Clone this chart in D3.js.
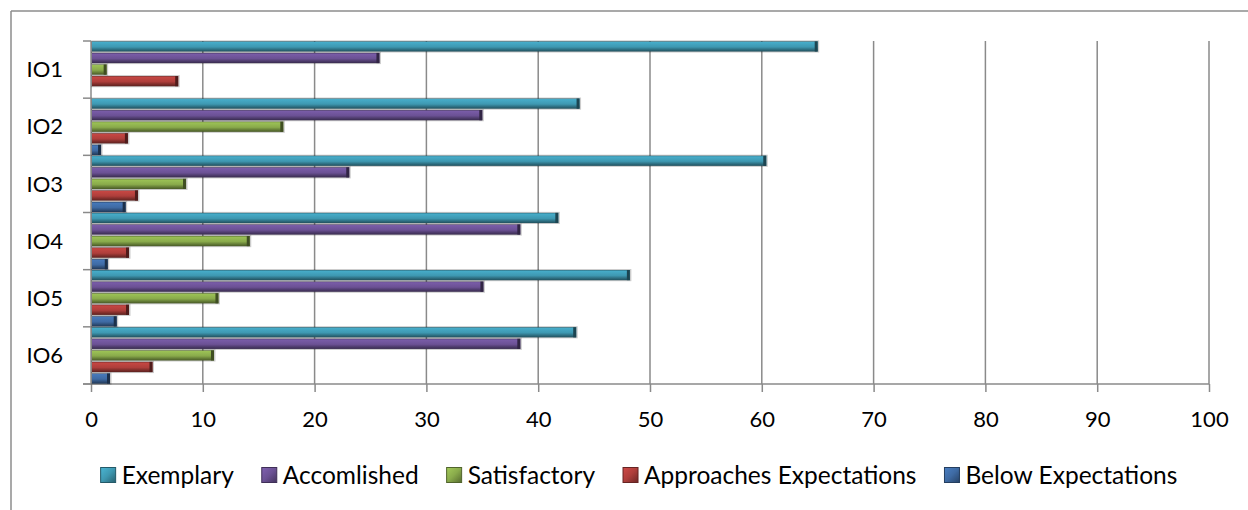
<!DOCTYPE html>
<html>
<head>
<meta charset="utf-8">
<script src="https://cdn.jsdelivr.net/npm/d3@7"></script>
<style>
  html, body { margin: 0; padding: 0; background: #ffffff; }
  svg { display: block; }
  text { font-family: Lato, "Open Sans", sans-serif; fill: #000; }
</style>
</head>
<body>
<svg id="chart" width="1248" height="510"></svg>
<script>
// Outcome categories (top to bottom)
const categories = ["IO1", "IO2", "IO3", "IO4", "IO5", "IO6"];

// Rating levels, in the order they are stacked inside each category band
const seriesNames = ["Exemplary", "Accomlished", "Satisfactory", "Approaches Expectations", "Below Expectations"];

// Percentage of ratings per outcome, one array per rating level
const exemplary    = [65.0, 43.7, 60.4, 41.8, 48.2, 43.4];
const accomlished  = [25.8, 35.0, 23.1, 38.4, 35.1, 38.4];
const satisfactory = [1.4, 17.2, 8.5, 14.2, 11.4, 11.0];
const approaches   = [7.8, 3.3, 4.2, 3.4, 3.4, 5.5];
const below        = [0.0, 0.9, 3.1, 1.5, 2.3, 1.7];

// Value axis ticks
const xTicks = [0, 10, 20, 30, 40, 50, 60, 70, 80, 90, 100];

const seriesValues = [exemplary, accomlished, satisfactory, approaches, below];
const seriesColors = ["#3e98b1", "#6b5194", "#89aa4b", "#ae3e3b", "#3e6aa3"];

const svg = d3.select("#chart");
const W = 1248, H = 510;
const margin = { left: 91, right: 39, top: 41, bottom: 126 };

const x = d3.scaleLinear().domain([0, 100]).range([margin.left, W - margin.right]);
const y = d3.scaleBand().domain(categories).range([margin.top, H - margin.bottom]);
const ySub = d3.scaleBand().domain(seriesNames).range([0, y.bandwidth()])
  .paddingInner(0.12).paddingOuter(0.03);

// Bevel-like gradients for each series
const defs = svg.append("defs");
seriesColors.forEach((c, i) => {
  const base = d3.color(c);
  const g = defs.append("linearGradient").attr("id", "g" + i)
    .attr("x1", 0).attr("y1", 0).attr("x2", 0).attr("y2", 1);
  [[0, base.darker(1.3)], [0.1, base.brighter(0.35)], [0.3, base.brighter(0.2)],
   [0.55, base], [0.78, base.darker(0.8)], [1, base.darker(1.8)]]
    .forEach(([o, col]) => g.append("stop").attr("offset", o).attr("stop-color", col.formatHex()));
  const s = defs.append("linearGradient").attr("id", "s" + i)
    .attr("x1", 0).attr("y1", 0).attr("x2", 1).attr("y2", 1);
  [[0, base.brighter(0.5)], [0.5, base], [1, base.darker(1.3)]]
    .forEach(([o, col]) => s.append("stop").attr("offset", o).attr("stop-color", col.formatHex()));
});

// Chart frame
const frame = "#8c8c8c";
svg.append("line").attr("x1", 11).attr("x2", W).attr("y1", 11).attr("y2", 11)
  .attr("stroke", frame).attr("stroke-width", 1.5);
svg.append("line").attr("x1", 11).attr("x2", 11).attr("y1", 11).attr("y2", H)
  .attr("stroke", frame).attr("stroke-width", 1.5);

// Vertical gridlines
const grid = "#8a8a8a";
svg.append("g").selectAll("line").data(xTicks.filter(d => d > 0)).join("line")
  .attr("x1", d => x(d)).attr("x2", d => x(d))
  .attr("y1", margin.top).attr("y2", H - margin.bottom)
  .attr("stroke", grid).attr("stroke-width", 1.5);

// Value axis
const xAxis = svg.append("g").attr("transform", `translate(0,${H - margin.bottom})`)
  .call(d3.axisBottom(x).tickValues(xTicks).tickSize(8).tickSizeOuter(0).tickPadding(10));
xAxis.select(".domain").attr("stroke", grid).attr("stroke-width", 1.5)
  .attr("d", `M${margin.left - 8},0H${W - margin.right}`);
xAxis.selectAll(".tick line").attr("stroke", grid).attr("stroke-width", 1.5);
xAxis.selectAll(".tick text").attr("font-size", 22).attr("font-family", "Lato")
  .attr("dy", "0.71em").attr("y", 27);

// Category axis
const yAxis = svg.append("g").attr("transform", `translate(${margin.left},0)`);
yAxis.append("line").attr("x1", 0).attr("x2", 0)
  .attr("y1", margin.top).attr("y2", H - margin.bottom)
  .attr("stroke", grid).attr("stroke-width", 1.5);
const bounds = categories.map(c => y(c)).concat([y(categories[categories.length - 1]) + y.bandwidth()]);
yAxis.selectAll("line.tk").data(bounds).join("line").attr("class", "tk")
  .attr("x1", -8).attr("x2", 0).attr("y1", d => d).attr("y2", d => d)
  .attr("stroke", grid).attr("stroke-width", 1.5);
yAxis.selectAll("text").data(categories).join("text")
  .attr("x", -28).attr("y", d => y(d) + y.bandwidth() / 2)
  .attr("dy", "0.35em").attr("text-anchor", "end")
  .attr("font-size", 22).text(d => d);

// Bars
const bars = svg.append("g");
seriesNames.forEach((name, si) => {
  const vals = seriesValues[si];
  const g = bars.append("g");
  const data = categories.map((c, ci) => ({ c, v: vals[ci] })).filter(d => d.v > 0);
  const top = d => y(d.c) + ySub(name);
  const h = ySub.bandwidth();
  // soft halo
  g.selectAll("rect.halo").data(data).join("rect").attr("class", "halo")
    .attr("x", x(0)).attr("y", d => top(d) - 1)
    .attr("width", d => x(d.v) - x(0) + 1.5).attr("height", h + 2)
    .attr("fill", "#000").attr("opacity", 0.2);
  // body
  g.selectAll("rect.body").data(data).join("rect").attr("class", "body")
    .attr("x", x(0) + 1).attr("y", d => top(d))
    .attr("width", d => Math.max(0, x(d.v) - x(0) - 1)).attr("height", h)
    .attr("fill", `url(#g${si})`);
  // dark end cap
  g.selectAll("rect.cap").data(data).join("rect").attr("class", "cap")
    .attr("x", d => x(d.v) - 3).attr("y", d => top(d))
    .attr("width", 3).attr("height", h)
    .attr("fill", d3.color(seriesColors[si]).darker(2.2).formatHex());
});

// Legend
const legend = svg.append("g");
const items = legend.selectAll("g").data(seriesNames).join("g");
items.append("rect").attr("width", 15).attr("height", 15).attr("y", -7.5)
  .attr("fill", (d, i) => `url(#s${i})`)
  .attr("stroke", (d, i) => d3.color(seriesColors[i]).darker(1.5).formatHex()).attr("stroke-width", 1);
items.append("text").attr("x", 21).attr("dy", "0.36em").attr("font-size", 24.5).text(d => d);
let cursor = 0;
const offsets = [];
items.each(function () {
  const w = 21 + this.querySelector("text").getComputedTextLength();
  offsets.push(cursor);
  cursor += w + 28;
});
const total = cursor - 28;
const startX = 639 - total / 2;
items.attr("transform", (d, i) => `translate(${startX + offsets[i]},475)`);
</script>
</body>
</html>
